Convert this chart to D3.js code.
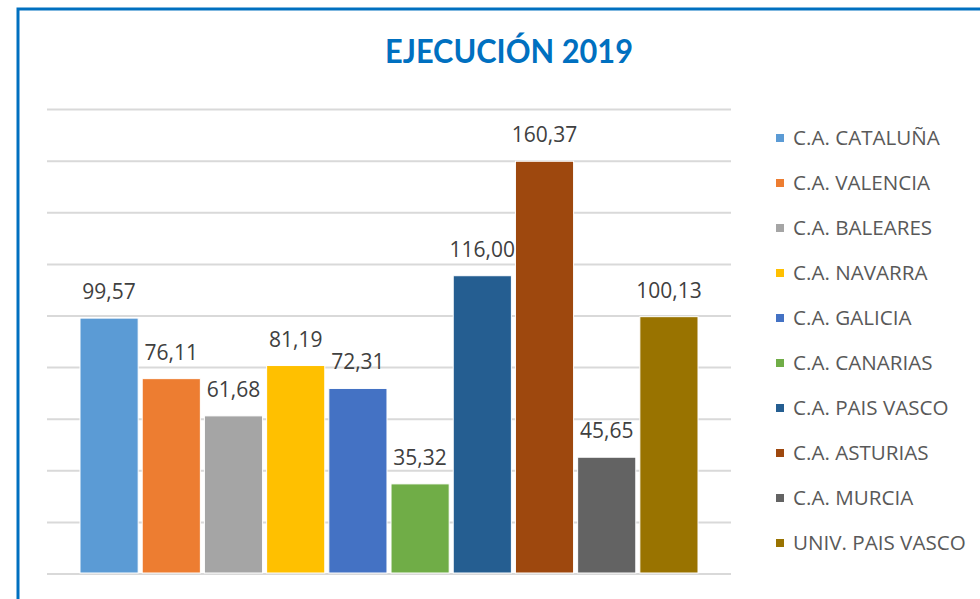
<!DOCTYPE html>
<html><head><meta charset="utf-8">
<script src="https://cdn.jsdelivr.net/npm/d3@7"></script>
<style>body{margin:0;background:#fff}svg{display:block}</style>
</head><body>
<script>
const categories = ["C.A. CATALUÑA","C.A. VALENCIA","C.A. BALEARES","C.A. NAVARRA","C.A. GALICIA","C.A. CANARIAS","C.A. PAIS VASCO","C.A. ASTURIAS","C.A. MURCIA","UNIV. PAIS VASCO"];
const values = [99.57, 76.11, 61.68, 81.19, 72.31, 35.32, 116.00, 160.37, 45.65, 100.13];
const colors = ["#5b9bd5","#ed7d31","#a5a5a5","#ffc000","#4472c4","#70ad47","#255e91","#9e480e","#636363","#997300"];
const yTicks = [0,20,40,60,80,100,120,140,160,180];
const title = "EJECUCIÓN 2019";

const W = 980, H = 599;
const svg = d3.select("body").append("svg").attr("width", W).attr("height", H);

// chart border
svg.append("rect").attr("x", 18).attr("y", 9).attr("width", 1000).attr("height", 700)
  .attr("fill", "#fff").attr("stroke", "#0070c0").attr("stroke-width", 3);

svg.append("text").attr("x", 509).attr("y", 63).attr("text-anchor", "middle")
  .attr("font-family", "Lato, 'Open Sans', sans-serif").attr("font-weight", "bold")
  .attr("font-size", 32).attr("fill", "#0070c0")
  .attr("textLength", 248).attr("lengthAdjust", "spacingAndGlyphs")
  .text(title);

const y = d3.scaleLinear().domain([0, 180]).range([574, 109.6]);
const x = d3.scaleBand().domain(categories).range([80, 698]).paddingInner(0.065).paddingOuter(0);

// gridlines
svg.append("g").selectAll("line").data(yTicks).join("line")
  .attr("x1", 47).attr("x2", 731)
  .attr("y1", d => y(d)).attr("y2", d => y(d))
  .attr("stroke", "#d9d9d9").attr("stroke-width", 2);

// bars
svg.append("g").selectAll("rect").data(values).join("rect")
  .attr("x", (d, i) => x(categories[i]))
  .attr("width", x.bandwidth())
  .attr("y", d => y(d) + 1)
  .attr("height", d => y(0) - y(d) - 2)
  .attr("fill", (d, i) => colors[i])
  .attr("stroke", "#fff").attr("stroke-width", 1);

// labels
const fmt = v => v.toFixed(2).replace(".", ",");
svg.append("g").selectAll("text").data(values).join("text")
  .attr("x", (d, i) => x(categories[i]) + x.bandwidth() / 2)
  .attr("y", d => y(d) - 18)
  .attr("text-anchor", "middle")
  .attr("font-family", "'Open Sans', sans-serif").attr("font-size", 21)
  .attr("fill", "#404040")
  .text(d => fmt(d));

// legend
const lg = svg.append("g");
categories.forEach((c, i) => {
  const cy = 138 + i * 45;
  lg.append("rect").attr("x", 776).attr("y", cy - 4).attr("width", 8).attr("height", 8).attr("fill", colors[i]);
  lg.append("text").attr("x", 793).attr("y", cy + 7)
    .attr("font-family", "'Open Sans', sans-serif").attr("font-size", 20.6)
    .attr("fill", "#595959").text(c);
});
</script>
</body></html>
